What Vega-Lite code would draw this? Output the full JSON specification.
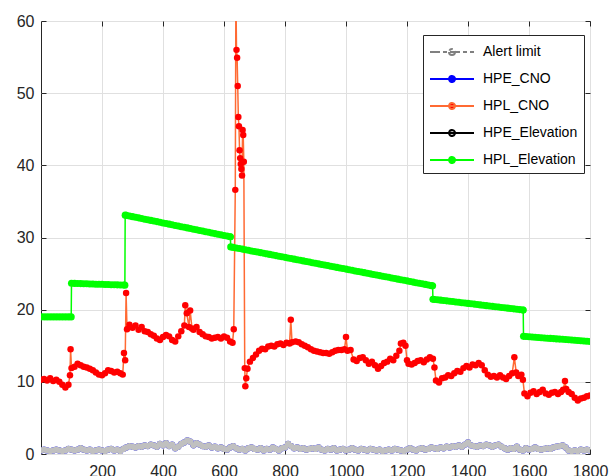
{
"$schema": "https://vega.github.io/schema/vega-lite/v6.json",
"width": 549, "height": 433,
"autosize": {"type": "none"},
"padding": {"left": 41, "top": 21, "right": 24, "bottom": 22},
"background": "white",
"config": {
 "view": {"stroke": "#262626", "strokeWidth": 1},
 "font": "Liberation Sans",
 "axis": {"labelFont": "Liberation Sans", "labelFontSize": 16, "labelColor": "#262626", "tickColor": "#262626", "gridColor": "#e0e0e0", "domain": false, "title": null, "labelFlush": false, "labelOverlap": false},
 "legend": {"orient": "none", "legendX": 382, "legendY": 14, "title": null, "labelFont": "Liberation Sans", "labelFontSize": 14, "labelColor": "#000000", "strokeColor": "#262626", "fillColor": "white", "padding": 6, "rowPadding": 9, "symbolType": "M-2.2,0H2.2M-0.3,0A0.3,0.3,0,1,0,0.3,0A0.3,0.3,0,1,0,-0.3,0", "symbolSize": 400, "symbolOffset": 12, "labelOffset": 20, "symbolStrokeWidth": 2, "labelLimit": 200}
},
"datasets": {"d": [
{"Alert limit": 30},
{"t":0,"HPE_CNO":0.5,"HPE_Elevation":0.5,"HPL_Elevation":19},
{"t":10,"HPE_CNO":0.6,"HPE_Elevation":0.6,"HPL_Elevation":19},
{"t":20,"HPE_CNO":0.5,"HPE_Elevation":0.5,"HPL_Elevation":19},
{"t":30,"HPE_CNO":0.4,"HPE_Elevation":0.4,"HPL_Elevation":19},
{"t":40,"HPE_CNO":0.5,"HPE_Elevation":0.5,"HPL_Elevation":19},
{"t":50,"HPE_CNO":0.6,"HPE_Elevation":0.6,"HPL_Elevation":19},
{"t":60,"HPE_CNO":0.5,"HPE_Elevation":0.5,"HPL_Elevation":19},
{"t":70,"HPE_CNO":0.4,"HPE_Elevation":0.4,"HPL_Elevation":19},
{"t":80,"HPE_CNO":0.5,"HPE_Elevation":0.5,"HPL_Elevation":19},
{"t":90,"HPE_CNO":0.7,"HPE_Elevation":0.7,"HPL_Elevation":19},
{"t":99,"HPL_Elevation":19},
{"t":100,"HPE_CNO":0.6,"HPE_Elevation":0.6,"HPL_Elevation":23.65},
{"t":110,"HPE_CNO":0.5,"HPE_Elevation":0.5,"HPL_Elevation":23.64},
{"t":120,"HPE_CNO":0.6,"HPE_Elevation":0.6,"HPL_Elevation":23.62},
{"t":130,"HPE_CNO":0.8,"HPE_Elevation":0.8,"HPL_Elevation":23.61},
{"t":140,"HPE_CNO":0.6,"HPE_Elevation":0.6,"HPL_Elevation":23.59},
{"t":150,"HPE_CNO":0.5,"HPE_Elevation":0.5,"HPL_Elevation":23.58},
{"t":160,"HPE_CNO":0.6,"HPE_Elevation":0.6,"HPL_Elevation":23.56},
{"t":170,"HPE_CNO":0.4,"HPE_Elevation":0.4,"HPL_Elevation":23.55},
{"t":180,"HPE_CNO":0.5,"HPE_Elevation":0.5,"HPL_Elevation":23.53},
{"t":190,"HPE_CNO":0.6,"HPE_Elevation":0.6,"HPL_Elevation":23.52},
{"t":200,"HPE_CNO":0.5,"HPE_Elevation":0.5,"HPL_Elevation":23.51},
{"t":210,"HPE_CNO":0.4,"HPE_Elevation":0.4,"HPL_Elevation":23.49},
{"t":220,"HPE_CNO":0.6,"HPE_Elevation":0.6,"HPL_Elevation":23.48},
{"t":230,"HPE_CNO":0.7,"HPE_Elevation":0.7,"HPL_Elevation":23.46},
{"t":240,"HPE_CNO":0.5,"HPE_Elevation":0.5,"HPL_Elevation":23.45},
{"t":250,"HPE_CNO":0.6,"HPE_Elevation":0.6,"HPL_Elevation":23.44},
{"t":260,"HPE_CNO":0.4,"HPE_Elevation":0.4,"HPL_Elevation":23.42},
{"t":270,"HPE_CNO":0.7,"HPE_Elevation":0.7,"HPL_Elevation":23.41},
{"t":275,"HPL_Elevation":23.4},
{"t":276,"HPL_Elevation":33.1},
{"t":280,"HPE_CNO":0.9,"HPE_Elevation":0.9,"HPL_Elevation":33.07},
{"t":290,"HPE_CNO":1.1,"HPE_Elevation":1.1,"HPL_Elevation":32.98},
{"t":300,"HPE_CNO":1.0,"HPE_Elevation":1.0,"HPL_Elevation":32.89},
{"t":310,"HPE_CNO":0.9,"HPE_Elevation":0.9,"HPL_Elevation":32.8},
{"t":320,"HPE_CNO":1.1,"HPE_Elevation":1.1,"HPL_Elevation":32.72},
{"t":330,"HPE_CNO":1.0,"HPE_Elevation":1.0,"HPL_Elevation":32.63},
{"t":340,"HPE_CNO":1.2,"HPE_Elevation":1.2,"HPL_Elevation":32.54},
{"t":350,"HPE_CNO":1.1,"HPE_Elevation":1.1,"HPL_Elevation":32.46},
{"t":360,"HPE_CNO":1.3,"HPE_Elevation":1.3,"HPL_Elevation":32.37},
{"t":370,"HPE_CNO":1.2,"HPE_Elevation":1.2,"HPL_Elevation":32.28},
{"t":380,"HPE_CNO":1.0,"HPE_Elevation":1.0,"HPL_Elevation":32.2},
{"t":390,"HPE_CNO":1.4,"HPE_Elevation":1.4,"HPL_Elevation":32.11},
{"t":400,"HPE_CNO":1.2,"HPE_Elevation":1.2,"HPL_Elevation":32.02},
{"t":410,"HPE_CNO":1.5,"HPE_Elevation":1.5,"HPL_Elevation":31.93},
{"t":420,"HPE_CNO":1.1,"HPE_Elevation":1.1,"HPL_Elevation":31.85},
{"t":430,"HPE_CNO":1.3,"HPE_Elevation":1.3,"HPL_Elevation":31.76},
{"t":440,"HPE_CNO":0.8,"HPE_Elevation":0.8,"HPL_Elevation":31.67},
{"t":450,"HPE_CNO":1.0,"HPE_Elevation":1.0,"HPL_Elevation":31.59},
{"t":460,"HPE_CNO":1.4,"HPE_Elevation":1.4,"HPL_Elevation":31.5},
{"t":470,"HPE_CNO":1.6,"HPE_Elevation":1.6,"HPL_Elevation":31.41},
{"t":480,"HPE_CNO":1.9,"HPE_Elevation":1.9,"HPL_Elevation":31.33},
{"t":490,"HPE_CNO":1.7,"HPE_Elevation":1.7,"HPL_Elevation":31.24},
{"t":500,"HPE_CNO":1.2,"HPE_Elevation":1.2,"HPL_Elevation":31.15},
{"t":510,"HPE_CNO":1.5,"HPE_Elevation":1.5,"HPL_Elevation":31.07},
{"t":520,"HPE_CNO":1.3,"HPE_Elevation":1.3,"HPL_Elevation":30.98},
{"t":530,"HPE_CNO":1.1,"HPE_Elevation":1.1,"HPL_Elevation":30.89},
{"t":540,"HPE_CNO":1.0,"HPE_Elevation":1.0,"HPL_Elevation":30.8},
{"t":550,"HPE_CNO":1.2,"HPE_Elevation":1.2,"HPL_Elevation":30.72},
{"t":560,"HPE_CNO":0.9,"HPE_Elevation":0.9,"HPL_Elevation":30.63},
{"t":570,"HPE_CNO":1.0,"HPE_Elevation":1.0,"HPL_Elevation":30.54},
{"t":580,"HPE_CNO":0.8,"HPE_Elevation":0.8,"HPL_Elevation":30.46},
{"t":590,"HPE_CNO":0.9,"HPE_Elevation":0.9,"HPL_Elevation":30.37},
{"t":600,"HPE_CNO":0.7,"HPE_Elevation":0.7,"HPL_Elevation":30.28},
{"t":610,"HPE_CNO":0.6,"HPE_Elevation":0.6,"HPL_Elevation":30.2},
{"t":620,"HPE_CNO":0.9,"HPE_Elevation":0.9,"HPL_Elevation":30.11},
{"t":621,"HPL_Elevation":30.1},
{"t":622,"HPL_Elevation":28.7},
{"t":630,"HPE_CNO":1.1,"HPE_Elevation":1.1,"HPL_Elevation":28.63},
{"t":640,"HPE_CNO":0.8,"HPE_Elevation":0.8,"HPL_Elevation":28.55},
{"t":650,"HPE_CNO":0.6,"HPE_Elevation":0.6,"HPL_Elevation":28.47},
{"t":660,"HPE_CNO":0.7,"HPE_Elevation":0.7,"HPL_Elevation":28.39},
{"t":670,"HPE_CNO":0.5,"HPE_Elevation":0.5,"HPL_Elevation":28.31},
{"t":680,"HPE_CNO":0.8,"HPE_Elevation":0.8,"HPL_Elevation":28.23},
{"t":690,"HPE_CNO":0.9,"HPE_Elevation":0.9,"HPL_Elevation":28.14},
{"t":700,"HPE_CNO":0.7,"HPE_Elevation":0.7,"HPL_Elevation":28.06},
{"t":710,"HPE_CNO":0.6,"HPE_Elevation":0.6,"HPL_Elevation":27.98},
{"t":720,"HPE_CNO":0.8,"HPE_Elevation":0.8,"HPL_Elevation":27.9},
{"t":730,"HPE_CNO":0.5,"HPE_Elevation":0.5,"HPL_Elevation":27.82},
{"t":740,"HPE_CNO":0.7,"HPE_Elevation":0.7,"HPL_Elevation":27.74},
{"t":750,"HPE_CNO":0.6,"HPE_Elevation":0.6,"HPL_Elevation":27.66},
{"t":760,"HPE_CNO":0.9,"HPE_Elevation":0.9,"HPL_Elevation":27.57},
{"t":770,"HPE_CNO":0.7,"HPE_Elevation":0.7,"HPL_Elevation":27.49},
{"t":780,"HPE_CNO":0.5,"HPE_Elevation":0.5,"HPL_Elevation":27.41},
{"t":790,"HPE_CNO":0.8,"HPE_Elevation":0.8,"HPL_Elevation":27.33},
{"t":800,"HPE_CNO":0.9,"HPE_Elevation":0.9,"HPL_Elevation":27.25},
{"t":810,"HPE_CNO":1.4,"HPE_Elevation":1.4,"HPL_Elevation":27.17},
{"t":820,"HPE_CNO":1.1,"HPE_Elevation":1.1,"HPL_Elevation":27.08},
{"t":830,"HPE_CNO":0.8,"HPE_Elevation":0.8,"HPL_Elevation":27.0},
{"t":840,"HPE_CNO":0.9,"HPE_Elevation":0.9,"HPL_Elevation":26.92},
{"t":850,"HPE_CNO":0.7,"HPE_Elevation":0.7,"HPL_Elevation":26.84},
{"t":860,"HPE_CNO":0.8,"HPE_Elevation":0.8,"HPL_Elevation":26.76},
{"t":870,"HPE_CNO":0.6,"HPE_Elevation":0.6,"HPL_Elevation":26.68},
{"t":880,"HPE_CNO":0.7,"HPE_Elevation":0.7,"HPL_Elevation":26.6},
{"t":890,"HPE_CNO":0.8,"HPE_Elevation":0.8,"HPL_Elevation":26.51},
{"t":900,"HPE_CNO":0.7,"HPE_Elevation":0.7,"HPL_Elevation":26.43},
{"t":910,"HPE_CNO":0.9,"HPE_Elevation":0.9,"HPL_Elevation":26.35},
{"t":920,"HPE_CNO":0.6,"HPE_Elevation":0.6,"HPL_Elevation":26.27},
{"t":930,"HPE_CNO":0.5,"HPE_Elevation":0.5,"HPL_Elevation":26.19},
{"t":940,"HPE_CNO":0.7,"HPE_Elevation":0.7,"HPL_Elevation":26.11},
{"t":950,"HPE_CNO":0.6,"HPE_Elevation":0.6,"HPL_Elevation":26.02},
{"t":960,"HPE_CNO":0.8,"HPE_Elevation":0.8,"HPL_Elevation":25.94},
{"t":970,"HPE_CNO":0.5,"HPE_Elevation":0.5,"HPL_Elevation":25.86},
{"t":980,"HPE_CNO":0.6,"HPE_Elevation":0.6,"HPL_Elevation":25.78},
{"t":990,"HPE_CNO":0.7,"HPE_Elevation":0.7,"HPL_Elevation":25.7},
{"t":1000,"HPE_CNO":0.5,"HPE_Elevation":0.5,"HPL_Elevation":25.62},
{"t":1010,"HPE_CNO":0.6,"HPE_Elevation":0.6,"HPL_Elevation":25.54},
{"t":1020,"HPE_CNO":0.8,"HPE_Elevation":0.8,"HPL_Elevation":25.45},
{"t":1030,"HPE_CNO":0.6,"HPE_Elevation":0.6,"HPL_Elevation":25.37},
{"t":1040,"HPE_CNO":0.5,"HPE_Elevation":0.5,"HPL_Elevation":25.29},
{"t":1050,"HPE_CNO":0.7,"HPE_Elevation":0.7,"HPL_Elevation":25.21},
{"t":1060,"HPE_CNO":0.6,"HPE_Elevation":0.6,"HPL_Elevation":25.13},
{"t":1070,"HPE_CNO":0.5,"HPE_Elevation":0.5,"HPL_Elevation":25.05},
{"t":1080,"HPE_CNO":0.7,"HPE_Elevation":0.7,"HPL_Elevation":24.96},
{"t":1090,"HPE_CNO":0.6,"HPE_Elevation":0.6,"HPL_Elevation":24.88},
{"t":1100,"HPE_CNO":0.5,"HPE_Elevation":0.5,"HPL_Elevation":24.8},
{"t":1110,"HPE_CNO":0.6,"HPE_Elevation":0.6,"HPL_Elevation":24.72},
{"t":1120,"HPE_CNO":0.4,"HPE_Elevation":0.4,"HPL_Elevation":24.64},
{"t":1130,"HPE_CNO":0.5,"HPE_Elevation":0.5,"HPL_Elevation":24.56},
{"t":1140,"HPE_CNO":0.6,"HPE_Elevation":0.6,"HPL_Elevation":24.48},
{"t":1150,"HPE_CNO":0.5,"HPE_Elevation":0.5,"HPL_Elevation":24.39},
{"t":1160,"HPE_CNO":0.7,"HPE_Elevation":0.7,"HPL_Elevation":24.31},
{"t":1170,"HPE_CNO":0.6,"HPE_Elevation":0.6,"HPL_Elevation":24.23},
{"t":1180,"HPE_CNO":0.5,"HPE_Elevation":0.5,"HPL_Elevation":24.15},
{"t":1190,"HPE_CNO":0.4,"HPE_Elevation":0.4,"HPL_Elevation":24.07},
{"t":1200,"HPE_CNO":0.6,"HPE_Elevation":0.6,"HPL_Elevation":23.99},
{"t":1210,"HPE_CNO":0.8,"HPE_Elevation":0.8,"HPL_Elevation":23.9},
{"t":1220,"HPE_CNO":0.6,"HPE_Elevation":0.6,"HPL_Elevation":23.82},
{"t":1230,"HPE_CNO":0.5,"HPE_Elevation":0.5,"HPL_Elevation":23.74},
{"t":1240,"HPE_CNO":0.7,"HPE_Elevation":0.7,"HPL_Elevation":23.66},
{"t":1250,"HPE_CNO":0.8,"HPE_Elevation":0.8,"HPL_Elevation":23.58},
{"t":1260,"HPE_CNO":0.6,"HPE_Elevation":0.6,"HPL_Elevation":23.5},
{"t":1270,"HPE_CNO":0.7,"HPE_Elevation":0.7,"HPL_Elevation":23.42},
{"t":1280,"HPE_CNO":0.9,"HPE_Elevation":0.9,"HPL_Elevation":23.33},
{"t":1284,"HPL_Elevation":23.3},
{"t":1285,"HPL_Elevation":21.45},
{"t":1290,"HPE_CNO":0.8,"HPE_Elevation":0.8,"HPL_Elevation":21.42},
{"t":1300,"HPE_CNO":0.7,"HPE_Elevation":0.7,"HPL_Elevation":21.37},
{"t":1310,"HPE_CNO":0.9,"HPE_Elevation":0.9,"HPL_Elevation":21.32},
{"t":1320,"HPE_CNO":0.8,"HPE_Elevation":0.8,"HPL_Elevation":21.27},
{"t":1330,"HPE_CNO":1.0,"HPE_Elevation":1.0,"HPL_Elevation":21.22},
{"t":1340,"HPE_CNO":0.9,"HPE_Elevation":0.9,"HPL_Elevation":21.17},
{"t":1350,"HPE_CNO":1.1,"HPE_Elevation":1.1,"HPL_Elevation":21.12},
{"t":1360,"HPE_CNO":1.0,"HPE_Elevation":1.0,"HPL_Elevation":21.07},
{"t":1370,"HPE_CNO":1.2,"HPE_Elevation":1.2,"HPL_Elevation":21.02},
{"t":1380,"HPE_CNO":1.0,"HPE_Elevation":1.0,"HPL_Elevation":20.97},
{"t":1390,"HPE_CNO":1.3,"HPE_Elevation":1.3,"HPL_Elevation":20.92},
{"t":1400,"HPE_CNO":1.6,"HPE_Elevation":1.6,"HPL_Elevation":20.87},
{"t":1410,"HPE_CNO":1.2,"HPE_Elevation":1.2,"HPL_Elevation":20.82},
{"t":1420,"HPE_CNO":1.1,"HPE_Elevation":1.1,"HPL_Elevation":20.77},
{"t":1430,"HPE_CNO":1.0,"HPE_Elevation":1.0,"HPL_Elevation":20.71},
{"t":1440,"HPE_CNO":1.2,"HPE_Elevation":1.2,"HPL_Elevation":20.66},
{"t":1450,"HPE_CNO":1.1,"HPE_Elevation":1.1,"HPL_Elevation":20.61},
{"t":1460,"HPE_CNO":1.3,"HPE_Elevation":1.3,"HPL_Elevation":20.56},
{"t":1470,"HPE_CNO":1.2,"HPE_Elevation":1.2,"HPL_Elevation":20.51},
{"t":1480,"HPE_CNO":1.0,"HPE_Elevation":1.0,"HPL_Elevation":20.46},
{"t":1490,"HPE_CNO":1.2,"HPE_Elevation":1.2,"HPL_Elevation":20.41},
{"t":1500,"HPE_CNO":1.3,"HPE_Elevation":1.3,"HPL_Elevation":20.36},
{"t":1510,"HPE_CNO":1.0,"HPE_Elevation":1.0,"HPL_Elevation":20.31},
{"t":1520,"HPE_CNO":0.8,"HPE_Elevation":0.8,"HPL_Elevation":20.26},
{"t":1530,"HPE_CNO":0.6,"HPE_Elevation":0.6,"HPL_Elevation":20.21},
{"t":1540,"HPE_CNO":0.8,"HPE_Elevation":0.8,"HPL_Elevation":20.16},
{"t":1550,"HPE_CNO":0.7,"HPE_Elevation":0.7,"HPL_Elevation":20.11},
{"t":1560,"HPE_CNO":1.0,"HPE_Elevation":1.0,"HPL_Elevation":20.06},
{"t":1570,"HPE_CNO":0.6,"HPE_Elevation":0.6,"HPL_Elevation":20.01},
{"t":1580,"HPE_CNO":0.5,"HPE_Elevation":0.5,"HPL_Elevation":19.96},
{"t":1581,"HPL_Elevation":19.95},
{"t":1582,"HPL_Elevation":16.3},
{"t":1590,"HPE_CNO":0.8,"HPE_Elevation":0.8,"HPL_Elevation":16.27},
{"t":1600,"HPE_CNO":0.6,"HPE_Elevation":0.6,"HPL_Elevation":16.24},
{"t":1610,"HPE_CNO":0.7,"HPE_Elevation":0.7,"HPL_Elevation":16.21},
{"t":1620,"HPE_CNO":0.9,"HPE_Elevation":0.9,"HPL_Elevation":16.18},
{"t":1630,"HPE_CNO":0.7,"HPE_Elevation":0.7,"HPL_Elevation":16.15},
{"t":1640,"HPE_CNO":0.6,"HPE_Elevation":0.6,"HPL_Elevation":16.11},
{"t":1650,"HPE_CNO":0.7,"HPE_Elevation":0.7,"HPL_Elevation":16.08},
{"t":1660,"HPE_CNO":0.8,"HPE_Elevation":0.8,"HPL_Elevation":16.05},
{"t":1670,"HPE_CNO":0.7,"HPE_Elevation":0.7,"HPL_Elevation":16.02},
{"t":1680,"HPE_CNO":0.9,"HPE_Elevation":0.9,"HPL_Elevation":15.99},
{"t":1690,"HPE_CNO":1.0,"HPE_Elevation":1.0,"HPL_Elevation":15.95},
{"t":1700,"HPE_CNO":1.1,"HPE_Elevation":1.1,"HPL_Elevation":15.92},
{"t":1710,"HPE_CNO":1.2,"HPE_Elevation":1.2,"HPL_Elevation":15.89},
{"t":1720,"HPE_CNO":0.9,"HPE_Elevation":0.9,"HPL_Elevation":15.86},
{"t":1730,"HPE_CNO":0.5,"HPE_Elevation":0.5,"HPL_Elevation":15.83},
{"t":1740,"HPE_CNO":0.4,"HPE_Elevation":0.4,"HPL_Elevation":15.79},
{"t":1750,"HPE_CNO":0.5,"HPE_Elevation":0.5,"HPL_Elevation":15.76},
{"t":1760,"HPE_CNO":0.4,"HPE_Elevation":0.4,"HPL_Elevation":15.73},
{"t":1770,"HPE_CNO":0.6,"HPE_Elevation":0.6,"HPL_Elevation":15.7},
{"t":1780,"HPE_CNO":0.5,"HPE_Elevation":0.5,"HPL_Elevation":15.67},
{"t":1790,"HPE_CNO":0.6,"HPE_Elevation":0.6,"HPL_Elevation":15.63},
{"t":1800,"HPE_CNO":0.5,"HPE_Elevation":0.5,"HPL_Elevation":15.6},
{"t":0,"HPL_CNO":10.3},{"t":10,"HPL_CNO":10.4},{"t":20,"HPL_CNO":10.2},{"t":30,"HPL_CNO":10.5},{"t":40,"HPL_CNO":10.1},{"t":50,"HPL_CNO":10.3},{"t":60,"HPL_CNO":10.0},{"t":70,"HPL_CNO":9.6},{"t":80,"HPL_CNO":9.2},{"t":90,"HPL_CNO":9.6},{"t":95,"HPL_CNO":10.9},{"t":97,"HPL_CNO":14.5},
{"t":100,"HPL_CNO":11.9},{"t":110,"HPL_CNO":12.1},{"t":120,"HPL_CNO":12.5},{"t":130,"HPL_CNO":12.3},{"t":140,"HPL_CNO":12.1},{"t":150,"HPL_CNO":12.0},{"t":160,"HPL_CNO":11.8},{"t":170,"HPL_CNO":11.6},{"t":180,"HPL_CNO":11.3},{"t":190,"HPL_CNO":11.0},{"t":200,"HPL_CNO":10.9},{"t":210,"HPL_CNO":11.2},{"t":220,"HPL_CNO":11.6},{"t":230,"HPL_CNO":11.5},{"t":240,"HPL_CNO":11.3},{"t":250,"HPL_CNO":11.4},{"t":260,"HPL_CNO":11.2},{"t":268,"HPL_CNO":11.0},{"t":272,"HPL_CNO":14.0},{"t":276,"HPL_CNO":13.0},{"t":279,"HPL_CNO":22.3},{"t":282,"HPL_CNO":17.3},
{"t":290,"HPL_CNO":17.9},{"t":300,"HPL_CNO":17.5},{"t":310,"HPL_CNO":17.8},{"t":320,"HPL_CNO":17.2},{"t":330,"HPL_CNO":17.6},{"t":340,"HPL_CNO":17.0},{"t":350,"HPL_CNO":16.9},{"t":360,"HPL_CNO":16.6},{"t":370,"HPL_CNO":16.4},{"t":380,"HPL_CNO":16.0},{"t":390,"HPL_CNO":15.8},{"t":400,"HPL_CNO":16.2},{"t":410,"HPL_CNO":16.5},{"t":420,"HPL_CNO":16.3},{"t":430,"HPL_CNO":15.8},{"t":440,"HPL_CNO":15.6},{"t":450,"HPL_CNO":16.3},{"t":460,"HPL_CNO":17.0},{"t":470,"HPL_CNO":17.8},{"t":473,"HPL_CNO":20.6},{"t":478,"HPL_CNO":19.5},{"t":485,"HPL_CNO":17.6},{"t":489,"HPL_CNO":19.9},{"t":495,"HPL_CNO":17.4},
{"t":500,"HPL_CNO":17.2},{"t":510,"HPL_CNO":17.6},{"t":520,"HPL_CNO":16.9},{"t":530,"HPL_CNO":16.6},{"t":540,"HPL_CNO":16.3},{"t":550,"HPL_CNO":16.2},{"t":560,"HPL_CNO":16.0},{"t":570,"HPL_CNO":16.1},{"t":580,"HPL_CNO":16.2},{"t":590,"HPL_CNO":16.0},{"t":600,"HPL_CNO":16.3},{"t":610,"HPL_CNO":16.1},{"t":620,"HPL_CNO":15.6},{"t":628,"HPL_CNO":15.4},{"t":632,"HPL_CNO":17.3},{"t":637,"HPL_CNO":36.6},{"t":639,"HPL_CNO":64},{"t":641,"HPL_CNO":56.0},{"t":643,"HPL_CNO":54.9},{"t":645,"HPL_CNO":51.0},{"t":647,"HPL_CNO":46.7},{"t":649,"HPL_CNO":45.4},{"t":651,"HPL_CNO":42.1},{"t":653,"HPL_CNO":41.0},{"t":655,"HPL_CNO":40.2},{"t":657,"HPL_CNO":39.5},{"t":659,"HPL_CNO":38.6},{"t":661,"HPL_CNO":44.9},{"t":663,"HPL_CNO":44.2},{"t":665,"HPL_CNO":40.5},{"t":668,"HPL_CNO":11.9},{"t":670,"HPL_CNO":9.4},{"t":673,"HPL_CNO":10.5},{"t":677,"HPL_CNO":11.8},
{"t":685,"HPL_CNO":12.8},{"t":695,"HPL_CNO":13.3},{"t":705,"HPL_CNO":13.8},{"t":715,"HPL_CNO":14.3},{"t":725,"HPL_CNO":14.6},{"t":735,"HPL_CNO":14.5},{"t":745,"HPL_CNO":14.9},{"t":755,"HPL_CNO":15.0},{"t":765,"HPL_CNO":14.9},{"t":775,"HPL_CNO":15.2},{"t":785,"HPL_CNO":15.3},{"t":795,"HPL_CNO":15.1},{"t":805,"HPL_CNO":15.4},{"t":815,"HPL_CNO":15.3},{"t":819,"HPL_CNO":18.6},{"t":823,"HPL_CNO":15.5},{"t":835,"HPL_CNO":15.6},{"t":845,"HPL_CNO":15.5},{"t":855,"HPL_CNO":15.2},{"t":865,"HPL_CNO":15.0},{"t":875,"HPL_CNO":14.8},{"t":885,"HPL_CNO":14.5},{"t":895,"HPL_CNO":14.3},
{"t":905,"HPL_CNO":14.2},{"t":915,"HPL_CNO":14.1},{"t":925,"HPL_CNO":14.0},{"t":935,"HPL_CNO":14.0},{"t":945,"HPL_CNO":13.9},{"t":955,"HPL_CNO":14.1},{"t":965,"HPL_CNO":14.3},{"t":975,"HPL_CNO":14.4},{"t":985,"HPL_CNO":14.4},{"t":995,"HPL_CNO":14.5},{"t":1000,"HPL_CNO":16.2},{"t":1005,"HPL_CNO":14.3},{"t":1015,"HPL_CNO":14.4},{"t":1025,"HPL_CNO":13.1},{"t":1035,"HPL_CNO":12.9},{"t":1045,"HPL_CNO":13.3},{"t":1055,"HPL_CNO":13.4},{"t":1065,"HPL_CNO":13.0},{"t":1075,"HPL_CNO":12.5},{"t":1085,"HPL_CNO":12.8},{"t":1095,"HPL_CNO":12.3},
{"t":1105,"HPL_CNO":11.8},{"t":1115,"HPL_CNO":12.2},{"t":1125,"HPL_CNO":12.6},{"t":1135,"HPL_CNO":12.8},{"t":1145,"HPL_CNO":13.2},{"t":1155,"HPL_CNO":13.0},{"t":1165,"HPL_CNO":13.6},{"t":1175,"HPL_CNO":14.3},{"t":1180,"HPL_CNO":15.3},{"t":1188,"HPL_CNO":15.4},{"t":1195,"HPL_CNO":15.0},{"t":1200,"HPL_CNO":13.0},{"t":1205,"HPL_CNO":12.5},{"t":1215,"HPL_CNO":12.4},{"t":1225,"HPL_CNO":12.6},{"t":1235,"HPL_CNO":12.9},{"t":1245,"HPL_CNO":13.0},{"t":1255,"HPL_CNO":12.7},{"t":1265,"HPL_CNO":13.1},{"t":1275,"HPL_CNO":13.4},{"t":1285,"HPL_CNO":13.2},{"t":1290,"HPL_CNO":12.0},{"t":1295,"HPL_CNO":10.2},
{"t":1305,"HPL_CNO":9.9},{"t":1315,"HPL_CNO":10.5},{"t":1325,"HPL_CNO":10.6},{"t":1335,"HPL_CNO":10.9},{"t":1345,"HPL_CNO":10.8},{"t":1355,"HPL_CNO":11.2},{"t":1365,"HPL_CNO":11.5},{"t":1375,"HPL_CNO":11.4},{"t":1385,"HPL_CNO":11.9},{"t":1395,"HPL_CNO":12.2},{"t":1405,"HPL_CNO":12.0},{"t":1415,"HPL_CNO":12.4},{"t":1425,"HPL_CNO":12.3},{"t":1435,"HPL_CNO":12.6},{"t":1445,"HPL_CNO":12.3},{"t":1455,"HPL_CNO":11.6},{"t":1465,"HPL_CNO":11.0},{"t":1475,"HPL_CNO":10.7},{"t":1485,"HPL_CNO":10.8},{"t":1495,"HPL_CNO":10.6},
{"t":1505,"HPL_CNO":10.9},{"t":1515,"HPL_CNO":10.6},{"t":1525,"HPL_CNO":10.4},{"t":1535,"HPL_CNO":10.8},{"t":1545,"HPL_CNO":11.2},{"t":1552,"HPL_CNO":13.4},{"t":1558,"HPL_CNO":11.3},{"t":1565,"HPL_CNO":10.8},{"t":1575,"HPL_CNO":11.0},{"t":1580,"HPL_CNO":10.3},{"t":1585,"HPL_CNO":8.4},{"t":1595,"HPL_CNO":8.0},{"t":1605,"HPL_CNO":8.5},{"t":1615,"HPL_CNO":8.7},{"t":1625,"HPL_CNO":8.3},{"t":1635,"HPL_CNO":8.6},{"t":1645,"HPL_CNO":8.9},{"t":1655,"HPL_CNO":8.4},{"t":1665,"HPL_CNO":8.2},{"t":1675,"HPL_CNO":8.5},{"t":1685,"HPL_CNO":8.6},{"t":1695,"HPL_CNO":8.3},
{"t":1705,"HPL_CNO":8.6},{"t":1712,"HPL_CNO":8.9},{"t":1718,"HPL_CNO":10.1},{"t":1722,"HPL_CNO":9.0},{"t":1730,"HPL_CNO":8.6},{"t":1740,"HPL_CNO":8.3},{"t":1750,"HPL_CNO":7.8},{"t":1760,"HPL_CNO":7.4},{"t":1770,"HPL_CNO":7.7},{"t":1780,"HPL_CNO":7.8},{"t":1790,"HPL_CNO":8.0},{"t":1800,"HPL_CNO":8.1}
]},
"data": {"name": "d"},
"transform": [
 {"fold": ["Alert limit", "HPE_CNO", "HPL_CNO", "HPE_Elevation", "HPL_Elevation"], "as": ["series", "value"]},
 {"filter": "isValid(datum.value)"}
],
"encoding": {
 "x": {"field": "t", "type": "quantitative", "scale": {"domain": [0, 1800], "nice": false, "zero": false}, "axis": null},
 "y": {"field": "value", "type": "quantitative", "scale": {"domain": [0, 60], "nice": false}, "axis": null}
},
"resolve": {"axis": {"x": "independent", "y": "independent"}},
"layer": [
 {"transform": [{"filter": "datum.series === 'Alert limit'"}],
  "mark": {"type": "rule", "strokeWidth": 3},
  "encoding": {
   "x": {"datum": 0}, "x2": {"datum": 1800},
   "stroke": {"field": "series", "type": "nominal", "scale": {"domain": ["Alert limit", "HPE_CNO", "HPL_CNO", "HPE_Elevation", "HPL_Elevation"], "range": ["#808080", "#0000ff", "#ff6a33", "#000000", "#00ff00"]}},
   "strokeDash": {"field": "series", "type": "nominal", "scale": {"domain": ["Alert limit", "HPE_CNO", "HPL_CNO", "HPE_Elevation", "HPL_Elevation"], "range": [[10, 3, 4, 3], [1, 0], [1, 0], [1, 0], [1, 0]]}}
  }},
 {"transform": [{"filter": "datum.series === 'HPE_CNO'"}],
  "mark": {"type": "line", "strokeWidth": 1.5, "clip": true},
  "encoding": {
   "x": {"field": "t", "type": "quantitative", "axis": {"orient": "bottom", "values": [200, 400, 600, 800, 1000, 1200, 1400, 1600, 1800], "format": "d", "grid": true, "tickSize": -5, "labelPadding": 14}},
   "y": {"field": "value", "type": "quantitative", "axis": {"orient": "left", "values": [0, 10, 20, 30, 40, 50, 60], "grid": true, "tickSize": -5, "labelPadding": 12}},
   "stroke": {"field": "series", "type": "nominal"}
  }},
 {"transform": [{"filter": "datum.series === 'HPE_CNO'"}],
  "mark": {"type": "point", "filled": true, "size": 40, "opacity": 1, "strokeWidth": 0, "clip": true},
  "encoding": {
   "x": {"field": "t", "type": "quantitative", "axis": {"orient": "top", "values": [200, 400, 600, 800, 1000, 1200, 1400, 1600, 1800], "grid": false, "labels": false, "tickSize": -5}},
   "y": {"field": "value", "type": "quantitative", "axis": {"orient": "right", "values": [0, 10, 20, 30, 40, 50, 60], "grid": false, "labels": false, "tickSize": -5}},
   "fill": {"field": "series", "type": "nominal", "scale": {"domain": ["Alert limit", "HPE_CNO", "HPL_CNO", "HPE_Elevation", "HPL_Elevation"], "range": ["transparent", "#0000ff", "#ff0000", "#c0c0c0", "#00ff00"]}}
  }},
 {"transform": [{"filter": "datum.series === 'HPL_CNO'"}],
  "mark": {"type": "line", "strokeWidth": 1.5, "clip": true},
  "encoding": {"stroke": {"field": "series", "type": "nominal"}}},
 {"transform": [{"filter": "datum.series === 'HPL_CNO'"}],
  "mark": {"type": "point", "filled": true, "size": 42, "opacity": 1, "strokeWidth": 0, "clip": true},
  "encoding": {"fill": {"field": "series", "type": "nominal"}}},
 {"transform": [{"filter": "datum.series === 'HPE_Elevation'"}],
  "mark": {"type": "line", "strokeWidth": 1.5, "clip": true},
  "encoding": {"stroke": {"field": "series", "type": "nominal"}}},
 {"transform": [{"filter": "datum.series === 'HPE_Elevation'"}],
  "mark": {"type": "point", "filled": true, "size": 40, "opacity": 1, "strokeWidth": 0, "clip": true},
  "encoding": {"fill": {"field": "series", "type": "nominal"}}},
 {"transform": [{"filter": "datum.series === 'HPL_Elevation'"}],
  "mark": {"type": "line", "strokeWidth": 1.5, "clip": true},
  "encoding": {"stroke": {"field": "series", "type": "nominal"}}},
 {"transform": [{"filter": "datum.series === 'HPL_Elevation'"}],
  "mark": {"type": "point", "filled": true, "size": 50, "opacity": 1, "strokeWidth": 0, "clip": true},
  "encoding": {"fill": {"field": "series", "type": "nominal"}}}
]
}
